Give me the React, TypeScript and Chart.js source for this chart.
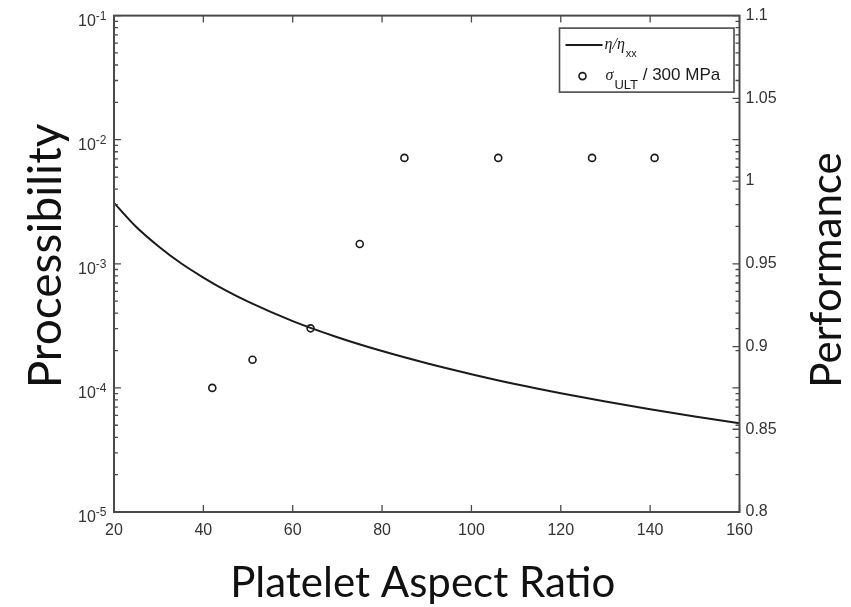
import React, { useEffect, useRef } from "react";
import { Chart, registerables } from "chart.js";

Chart.register(...registerables);

// ---- data ----
const curveX = [20, 25, 30, 35, 40, 45, 50, 60, 70, 80, 90, 100, 110, 120, 130, 140, 150, 160];
const curveY = [3.1e-3, 1.98e-3, 1.38e-3, 1.01e-3, 7.75e-4, 6.1e-4, 4.95e-4, 3.45e-4, 2.56e-4, 1.98e-4, 1.58e-4, 1.29e-4, 1.07e-4, 9.06e-5, 7.76e-5, 6.72e-5, 5.89e-5, 5.2e-5];
const strengthX = [42, 51, 64, 75, 85, 106, 127, 141];
const strengthY = [0.875, 0.892, 0.911, 0.962, 1.014, 1.014, 1.014, 1.014];

const xTickValues = [20, 40, 60, 80, 100, 120, 140, 160];
const leftDecades = [1e-1, 1e-2, 1e-3, 1e-4, 1e-5];
const leftExponents = ["-1", "-2", "-3", "-4", "-5"];
const minorMultiples = [2, 3, 4, 5, 6, 7, 8, 9];
const rightTickValues = [0.8, 0.85, 0.9, 0.95, 1, 1.05, 1.1];

const xTitle = "Platelet Aspect Ratio";
const leftTitle = "Processibility";
const rightTitle = "Performance";

const AXIS_COLOR = "#4a4a4a";
const TEXT_COLOR = "#333333";
const TICK_FONT = "16px 'Liberation Sans', Arial, sans-serif";
const TITLE_FONT = "42px Lato, 'Open Sans', sans-serif";
const LEFT_TITLE_FONT = "46px Lato, 'Open Sans', sans-serif";

const framePlugin = {
  id: "matlabFrame",
  afterDraw(chart: any) {
    const { ctx, chartArea } = chart;
    const xs = chart.scales.x;
    const ys = chart.scales.y;
    const ys1 = chart.scales.y1;
    const { left, right, top, bottom } = chartArea;
    ctx.save();

    // box
    ctx.strokeStyle = AXIS_COLOR;
    ctx.lineWidth = 2;
    ctx.strokeRect(left, top, right - left, bottom - top);

    ctx.lineWidth = 1.3;
    ctx.beginPath();
    // x ticks (inside, bottom and top)
    xTickValues.forEach((v) => {
      const px = xs.getPixelForValue(v);
      ctx.moveTo(px, bottom);
      ctx.lineTo(px, bottom - 7);
      ctx.moveTo(px, top);
      ctx.lineTo(px, top + 7);
    });
    // log ticks (left and mirrored right)
    leftDecades.forEach((d) => {
      const py = ys.getPixelForValue(d);
      ctx.moveTo(left, py);
      ctx.lineTo(left + 7, py);
      ctx.moveTo(right, py);
      ctx.lineTo(right - 7, py);
      if (d < 1e-1) {
        minorMultiples.forEach((m) => {
          const pm = ys.getPixelForValue(d * m);
          ctx.moveTo(left, pm);
          ctx.lineTo(left + 4, pm);
          ctx.moveTo(right, pm);
          ctx.lineTo(right - 4, pm);
        });
      }
    });
    // right linear ticks
    rightTickValues.forEach((v) => {
      const py = ys1.getPixelForValue(v);
      ctx.moveTo(right, py);
      ctx.lineTo(right - 7, py);
    });
    ctx.stroke();

    // left tick labels 10^n
    ctx.fillStyle = TEXT_COLOR;
    ctx.textBaseline = "alphabetic";
    leftDecades.forEach((d, i) => {
      const py = ys.getPixelForValue(d);
      ctx.font = "12px 'Liberation Sans', Arial, sans-serif";
      const ew = ctx.measureText(leftExponents[i]).width;
      const expRight = left - 7.5;
      ctx.textAlign = "left";
      ctx.fillText(leftExponents[i], expRight - ew, py + 4);
      ctx.font = TICK_FONT;
      ctx.textAlign = "right";
      ctx.fillText("10", expRight - ew, py + 10);
    });

    // titles
    ctx.fillStyle = "#111111";
    ctx.font = TITLE_FONT;
    ctx.textAlign = "center";
    ctx.textBaseline = "alphabetic";
    ctx.fillText(xTitle, (left + right) / 2 - 4, 597);

    ctx.save();
    ctx.font = LEFT_TITLE_FONT;
    ctx.translate(61, 256);
    ctx.rotate(-Math.PI / 2);
    ctx.fillText(leftTitle, 0, 0);
    ctx.restore();

    ctx.save();
    ctx.translate(841, 270);
    ctx.rotate(-Math.PI / 2);
    ctx.fillText(rightTitle, 0, 0);
    ctx.restore();

    // legend
    const lx = right - 180;
    const ly = top + 12.5;
    const lw = 174.5;
    const lh = 64;
    ctx.fillStyle = "#ffffff";
    ctx.fillRect(lx, ly, lw, lh);
    ctx.strokeStyle = AXIS_COLOR;
    ctx.lineWidth = 1.6;
    ctx.strokeRect(lx, ly, lw, lh);

    // row 1: line sample
    ctx.strokeStyle = "#1a1a1a";
    ctx.lineWidth = 2;
    ctx.beginPath();
    ctx.moveTo(lx + 6, ly + 17);
    ctx.lineTo(lx + 43, ly + 17);
    ctx.stroke();
    ctx.fillStyle = "#1a1a1a";
    ctx.textAlign = "left";
    ctx.font = "italic 16px 'Liberation Serif', 'DejaVu Serif', serif";
    const t1 = "\u03b7/\u03b7";
    ctx.fillText(t1, lx + 45, ly + 21);
    const t1w = ctx.measureText(t1).width;
    ctx.font = "11px 'Liberation Sans', Arial, sans-serif";
    ctx.fillText("xx", lx + 46 + t1w, ly + 29);

    // row 2: circle marker
    ctx.beginPath();
    ctx.arc(lx + 23, ly + 48, 3.5, 0, Math.PI * 2);
    ctx.fillStyle = "#ffffff";
    ctx.fill();
    ctx.lineWidth = 1.6;
    ctx.strokeStyle = "#1a1a1a";
    ctx.stroke();
    ctx.fillStyle = "#1a1a1a";
    ctx.font = "italic 16px 'Liberation Serif', 'DejaVu Serif', serif";
    ctx.fillText("\u03c3", lx + 46, ly + 52);
    const sw = ctx.measureText("\u03c3").width;
    ctx.font = "13px 'Liberation Sans', Arial, sans-serif";
    ctx.fillText("ULT", lx + 47 + sw, ly + 61);
    const uw = ctx.measureText("ULT").width;
    ctx.font = "17px 'Liberation Sans', Arial, sans-serif";
    ctx.fillText(" / 300 MPa", lx + 47 + sw + uw, ly + 52);

    ctx.restore();
  },
};

export default function App() {
  const canvasRef = useRef<HTMLCanvasElement | null>(null);

  useEffect(() => {
    document.body.style.margin = "0";
    const canvas = canvasRef.current;
    if (!canvas) return;
    const chart = new Chart(canvas, {
      type: "scatter",
      data: {
        datasets: [
          {
            label: "eta",
            data: curveX.map((x, i) => ({ x, y: curveY[i] })),
            yAxisID: "y",
            showLine: true,
            borderColor: "#1a1a1a",
            borderWidth: 2,
            pointRadius: 0,
            cubicInterpolationMode: "monotone",
            fill: false,
          } as any,
          {
            label: "sigma",
            data: strengthX.map((x, i) => ({ x, y: strengthY[i] })),
            yAxisID: "y1",
            showLine: false,
            pointRadius: 3.5,
            pointBorderWidth: 1.6,
            pointBorderColor: "#1a1a1a",
            pointBackgroundColor: "#ffffff",
          } as any,
        ],
      },
      options: {
        responsive: false,
        animation: false,
        layout: { padding: { top: 13, left: 0, right: 0, bottom: 0 } },
        plugins: {
          legend: { display: false },
          tooltip: { enabled: false },
        },
        scales: {
          x: {
            type: "linear",
            position: "bottom",
            min: 20,
            max: 160,
            grid: { display: false, drawTicks: false },
            border: { display: false },
            ticks: {
              stepSize: 20,
              padding: 9,
              color: TEXT_COLOR,
              font: { family: "'Liberation Sans', Arial, sans-serif", size: 16 },
            },
            afterFit: (s: any) => {
              s.height = 95;
            },
          },
          y: {
            type: "logarithmic",
            position: "left",
            min: 1e-5,
            max: 1e-1,
            grid: { display: false, drawTicks: false },
            border: { display: false },
            ticks: { display: false },
            afterFit: (s: any) => {
              s.width = 114;
            },
          },
          y1: {
            type: "linear",
            position: "right",
            min: 0.8,
            max: 1.1,
            grid: { display: false, drawTicks: false },
            border: { display: false },
            ticks: {
              stepSize: 0.05,
              padding: 6,
              color: TEXT_COLOR,
              font: { family: "'Liberation Sans', Arial, sans-serif", size: 16 },
              callback: (v: any) => String(Math.round(Number(v) * 100) / 100),
            },
            afterFit: (s: any) => {
              s.width = 111.5;
            },
          },
        },
      } as any,
      plugins: [framePlugin],
    });
    return () => chart.destroy();
  }, []);

  return (
    <div style={{ width: 851, height: 607, position: "relative", background: "#ffffff", overflow: "hidden" }}>
      <canvas ref={canvasRef} width={851} height={607} style={{ display: "block" }} />
    </div>
  );
}
